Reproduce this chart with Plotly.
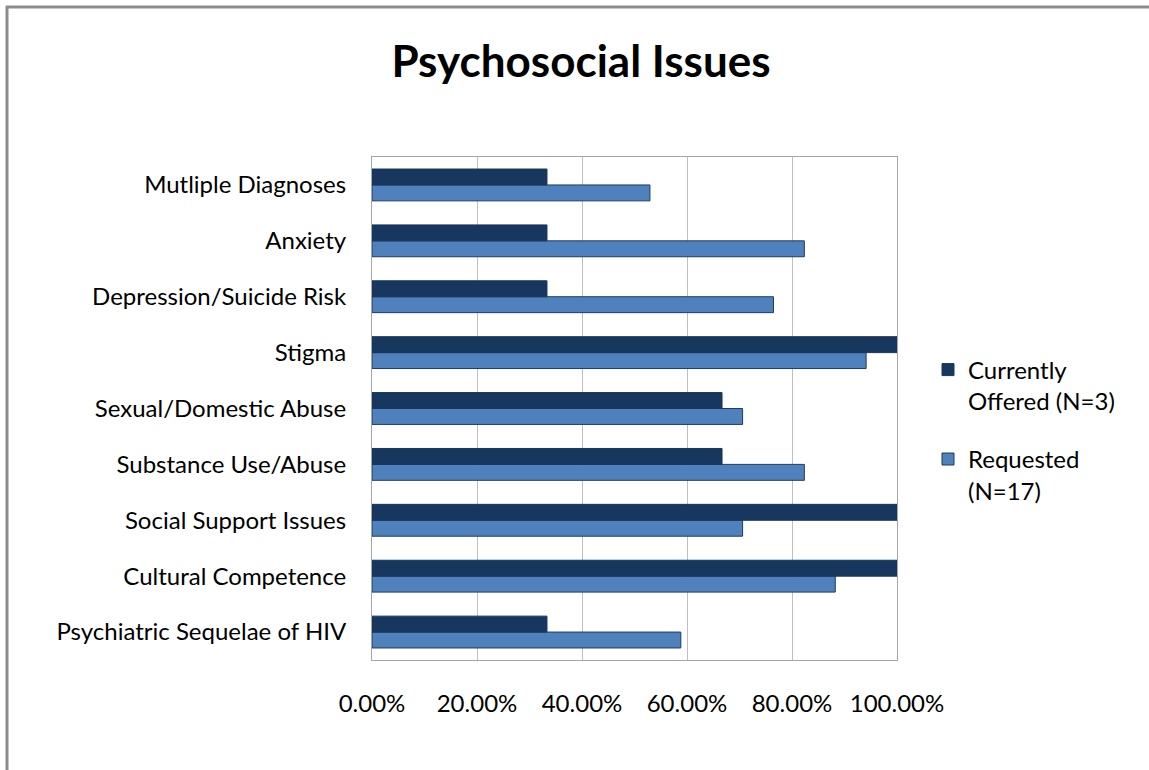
import plotly.graph_objects as go

categories = [
    "Psychiatric Sequelae of HIV",
    "Cultural Competence",
    "Social Support Issues",
    "Substance Use/Abuse",
    "Sexual/Domestic Abuse",
    "Stigma",
    "Depression/Suicide Risk",
    "Anxiety",
    "Mutliple Diagnoses",
]
currently_offered = [33.33, 100.0, 100.0, 66.67, 66.67, 100.0, 33.33, 33.33, 33.33]
requested = [58.82, 88.24, 70.59, 82.35, 70.59, 94.12, 76.47, 82.35, 52.94]
x_tick_vals = [0, 20, 40, 60, 80, 100]
x_tick_text = ["0.00%", "20.00%", "40.00%", "60.00%", "80.00%", "100.00%"]

FONT = "Lato"
W, H = 1149, 770
L, R, T, B = 372, 897, 157, 660  # plot area in target pixels

fig = go.Figure()
fig.add_trace(go.Bar(
    y=categories, x=requested, orientation="h", name="Requested<br>(N=17)",
    marker=dict(color="#4F81BD", line=dict(color="#1F3B63", width=1)),
    legendrank=2, legendgroup="req",
))
fig.add_trace(go.Bar(
    y=categories, x=currently_offered, orientation="h", name="Currently<br>Offered (N=3)",
    marker=dict(color="#17375E", line=dict(color="#17375E", width=1)),
    legendrank=1, legendgroup="cur",
))

def px(xp):
    return (xp - L) / (R - L)

def py(yp):
    return (B - yp) / (B - T)

# outer chart border (left and top)
fig.add_shape(type="line", xref="paper", yref="paper",
              x0=px(7), x1=px(7), y0=py(790), y1=py(6),
              line=dict(color="#8C8C8C", width=3))
fig.add_shape(type="line", xref="paper", yref="paper",
              x0=px(6), x1=px(1170), y0=py(7), y1=py(7),
              line=dict(color="#8C8C8C", width=3))

fig.update_layout(
    width=W, height=H,
    margin=dict(l=L, r=W - R, t=T, b=H - B, pad=0),
    paper_bgcolor="white", plot_bgcolor="white",
    font=dict(family=FONT, size=24, color="#000000"),
    title=dict(text="<b>Psychosocial Issues</b>", x=581 / W,
               xanchor="center", y=1 - 62 / H, yanchor="middle",
               font=dict(family=FONT, size=44, color="#000000")),
    barmode="group", bargap=0.43, bargroupgap=0,
    showlegend=True,
    legend=dict(x=px(928), xanchor="left", y=py(430), yanchor="middle",
                font=dict(family=FONT, size=24, color="#000000"),
                bgcolor="rgba(0,0,0,0)", itemwidth=30, valign="top",
                tracegroupgap=24),
    xaxis=dict(range=[0, 100], tickvals=x_tick_vals, ticktext=x_tick_text,
               showgrid=True, gridcolor="#BFBFBF", gridwidth=1,
               showline=True, linecolor="#A6A6A6", linewidth=1, mirror=True,
               ticks="", zeroline=False, ticklabelstandoff=22, fixedrange=True),
    yaxis=dict(categoryorder="array", categoryarray=categories,
               showline=True, linecolor="#A6A6A6", linewidth=1, mirror=True,
               ticks="", showgrid=False, ticklabelstandoff=20, fixedrange=True),
)

fig.write_html(
    "out.html", config={"displayModeBar": False},
    post_script=("document.body.style.margin='0';document.body.style.padding='0';"
                 "document.body.style.overflow='hidden';"
                 "document.documentElement.style.overflow='hidden';"),
)
